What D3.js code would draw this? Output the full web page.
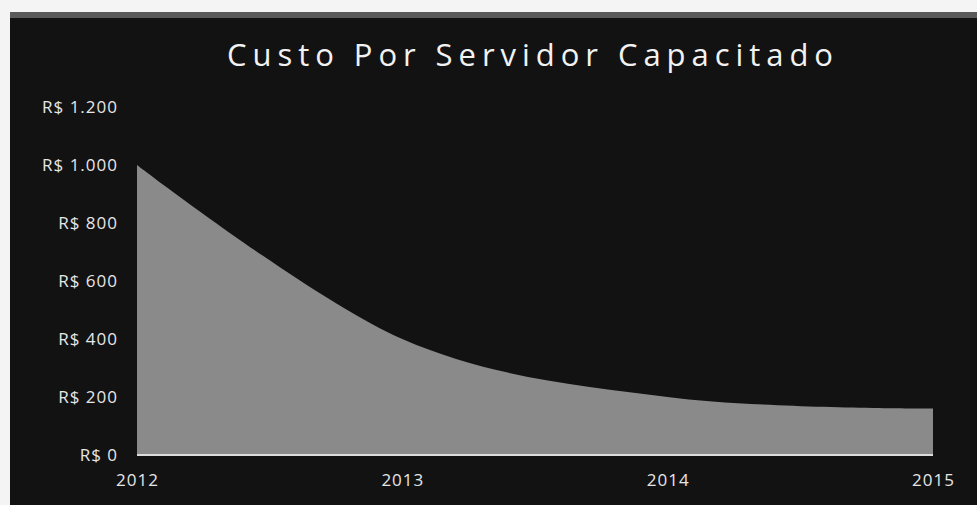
<!DOCTYPE html>
<html>
<head>
<meta charset="utf-8">
<script src="https://cdn.jsdelivr.net/npm/d3@7"></script>
<style>
  html, body { margin: 0; padding: 0; background: #f4f4f4; }
  svg { display: block; }
</style>
</head>
<body>
<svg id="chart" width="977" height="505"></svg>
<script>
const title = "Custo Por Servidor Capacitado";
const categories = ["2012", "2013", "2014", "2015"];
const values = [1000, 400, 200, 160];
const yTickValues = [0, 200, 400, 600, 800, 1000, 1200];
const yTickLabels = ["R$ 0", "R$ 200", "R$ 400", "R$ 600", "R$ 800", "R$ 1.000", "R$ 1.200"];

const svg = d3.select("#chart");
const W = 977, H = 505;

// dark panel
svg.append("rect").attr("x", 10).attr("y", 12).attr("width", W - 10).attr("height", H - 12).attr("fill", "#121212");
svg.append("rect").attr("x", 10).attr("y", 12).attr("width", W - 10).attr("height", 6).attr("fill", "#5a5a5a");

const x = d3.scalePoint().domain(categories).range([137, 933]);
const y = d3.scaleLinear().domain([0, 1200]).range([455, 107]);

const data = categories.map((c, i) => ({ c, v: values[i] }));

const area = d3.area()
  .x(d => x(d.c))
  .y0(y(0))
  .y1(d => y(d.v))
  .curve(d3.curveCardinal.tension(0));

svg.append("path").datum(data).attr("d", area).attr("fill", "#8a8a8a");

// baseline
svg.append("line")
  .attr("x1", x(categories[0])).attr("x2", x(categories[categories.length - 1]))
  .attr("y1", y(0)).attr("y2", y(0))
  .attr("stroke", "#dcdcdc").attr("stroke-width", 2);

const font = "'Open Sans', 'Liberation Sans', Arial, sans-serif";

// y axis
const yAxis = d3.axisLeft(y).tickValues(yTickValues)
  .tickFormat((d, i) => yTickLabels[i]).tickSize(0).tickPadding(0);
const gy = svg.append("g").attr("transform", "translate(118,0)").call(yAxis);
gy.select(".domain").remove();
gy.selectAll("text")
  .attr("fill", "#e6e6e6")
  .style("font-family", font)
  .style("font-size", "17px")
  .style("letter-spacing", "1px");

// x axis
const xAxis = d3.axisBottom(x).tickSize(0).tickPadding(0);
const gx = svg.append("g").attr("transform", "translate(0,474)").call(xAxis);
gx.select(".domain").remove();
gx.selectAll("text")
  .attr("fill", "#e6e6e6")
  .style("font-family", font)
  .style("font-size", "17px")
  .style("letter-spacing", "1px");

// title
svg.append("text")
  .attr("x", 227).attr("y", 66)
  .attr("textLength", 606).attr("lengthAdjust", "spacing")
  .attr("fill", "#f2f2f2")
  .style("font-family", font)
  .style("font-size", "31px")
  .text(title);
</script>
</body>
</html>
